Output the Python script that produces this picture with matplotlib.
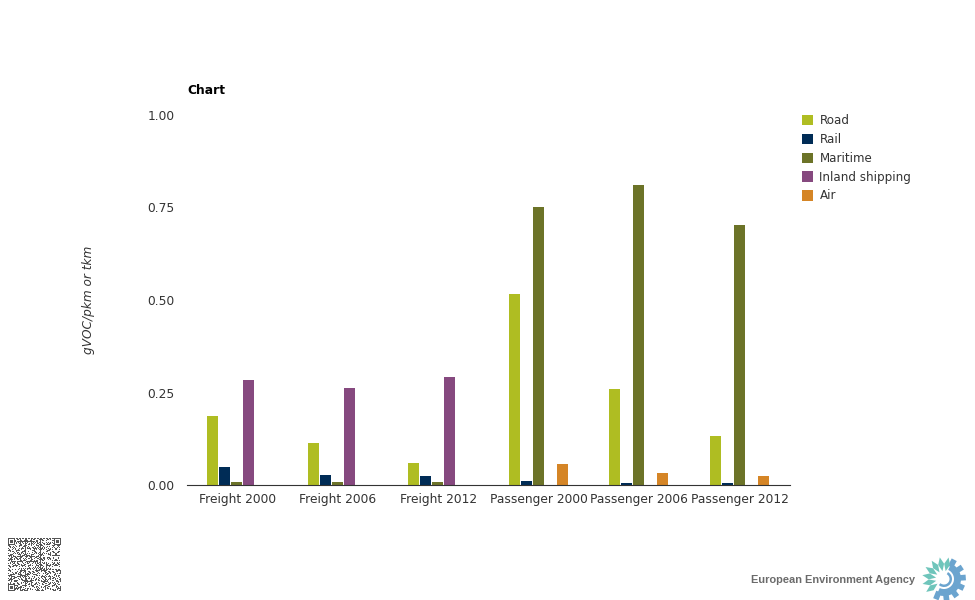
import matplotlib
matplotlib.use("Agg")
import matplotlib.pyplot as plt
from matplotlib.patches import Polygon, Circle, Wedge
import numpy as np

# chart data
labels = ["Freight 2000", "Freight 2006", "Freight 2012", "Passenger 2000", "Passenger 2006", "Passenger 2012"]
series = ["Road", "Rail", "Maritime", "Inland shipping", "Air"]
road = [0.187, 0.113, 0.060, 0.515, 0.260, 0.133]
rail = [0.050, 0.028, 0.025, 0.012, 0.006, 0.005]
maritime = [0.008, 0.008, 0.008, 0.752, 0.810, 0.703]
inland = [0.285, 0.263, 0.293, 0, 0, 0]
air = [0, 0, 0, 0.058, 0.033, 0.025]
yticks = [0.00, 0.25, 0.50, 0.75, 1.00]
colors = ["#afbd22", "#002c56", "#6c7328", "#86497f", "#d58526"]
text_color = "#333333"

plt.rcParams["font.family"] = "DejaVu Sans"
plt.figure(figsize=(9.75, 6), dpi=100)

# 1. bars
plt.axes([187 / 975, 1 - 485 / 600, 603 / 975, 370 / 600])
x = np.arange(len(labels))
for i, values in enumerate([road, rail, maritime, inland, air]):
    plt.bar(x + (i - 2) * 0.1194 - 0.007, values, width=0.11, color=colors[i], label=series[i])
plt.xlim(-0.5, 5.5)
plt.ylim(0, 1)
plt.xticks(x, labels, fontsize=8.8, color=text_color)
plt.yticks(yticks, [f"{v:.2f}" for v in yticks], fontsize=8.8, color=text_color)
plt.tick_params(length=0)
plt.tick_params(axis="y", pad=9)
plt.tick_params(axis="x", pad=5.5)
plt.ylabel("gVOC/pkm or tkm", fontsize=8.75, style="italic", color=text_color, labelpad=37.5)
ax = plt.gca()
for side in ["top", "left", "right"]:
    ax.spines[side].set_visible(False)
ax.spines["bottom"].set_color(text_color)
plt.title("Chart", fontsize=8.8, fontweight="bold", loc="left", pad=15)
plt.legend(loc="upper left", bbox_to_anchor=(1.0033, 1.03), frameon=False, fontsize=8.6, handlelength=0.95,
           handleheight=0.95, labelspacing=0.49, handletextpad=0.5, labelcolor=text_color, borderpad=0,
           borderaxespad=0.85)

# 2. footer, in pixels of the figure
plt.axes([0, 0, 1, 1])
plt.axis("off")
plt.gca().patch.set_alpha(0)

# QR-like block
n = 53
i, j = np.meshgrid(np.arange(n), np.arange(n))
qr = ((i * j + (i ^ j) * 3 + i // 3) % 5 < 2).astype(float)
for a, b in [(0, 0), (0, n - 7), (n - 7, 0)]:
    qr[a:a + 7, b:b + 7] = 1
    qr[a + 1:a + 6, b + 1:b + 6] = 0
    qr[a + 2:a + 5, b + 2:b + 5] = 1
plt.imshow(qr, cmap="gray_r", vmin=0, vmax=1.5, extent=(8, 61, 591, 538), aspect="auto", interpolation="nearest")
plt.xlim(0, 975)
plt.ylim(600, 0)

plt.text(915, 580, "European Environment Agency", fontsize=7.95, fontweight="bold", color="#6b6b6b",
         family="Liberation Sans", ha="right", va="center")

# logo: blue gear on the right, teal petals on the left
cx, cy = 944, 579
plt.gca().add_patch(Wedge((cx, cy), 17, -65, 115, color="#6ba4cf", lw=0))
for deg in range(-62, 115, 29):
    t = np.radians(deg)
    plt.gca().add_patch(Polygon([(cx + 14 * np.cos(t - 0.2), cy + 14 * np.sin(t - 0.2)),
                                 (cx + 22 * np.cos(t - 0.13), cy + 22 * np.sin(t - 0.13)),
                                 (cx + 22 * np.cos(t + 0.13), cy + 22 * np.sin(t + 0.13)),
                                 (cx + 14 * np.cos(t + 0.2), cy + 14 * np.sin(t + 0.2))], color="#6ba4cf", lw=0))
plt.gca().add_patch(Circle((cx, cy), 10, color="white", lw=0))
for deg in range(78, 225, 23):
    t = np.radians(deg)
    n1 = np.array([np.cos(t), -np.sin(t)])
    p1 = np.array([-n1[1], n1[0]])
    tip = np.array([cx, cy]) + n1 * 22
    mid = np.array([cx, cy]) + n1 * 15
    base = np.array([cx, cy]) + n1 * 8
    plt.gca().add_patch(Polygon([tip, mid + p1 * 3, base, mid - p1 * 3], color="#6fc5bb", lw=0))
plt.gca().add_patch(Wedge((cx, cy), 8, -60, 130, width=2.5, color="#6ba4cf", lw=0))

plt.savefig("out.png", dpi=100)
plt.close()
